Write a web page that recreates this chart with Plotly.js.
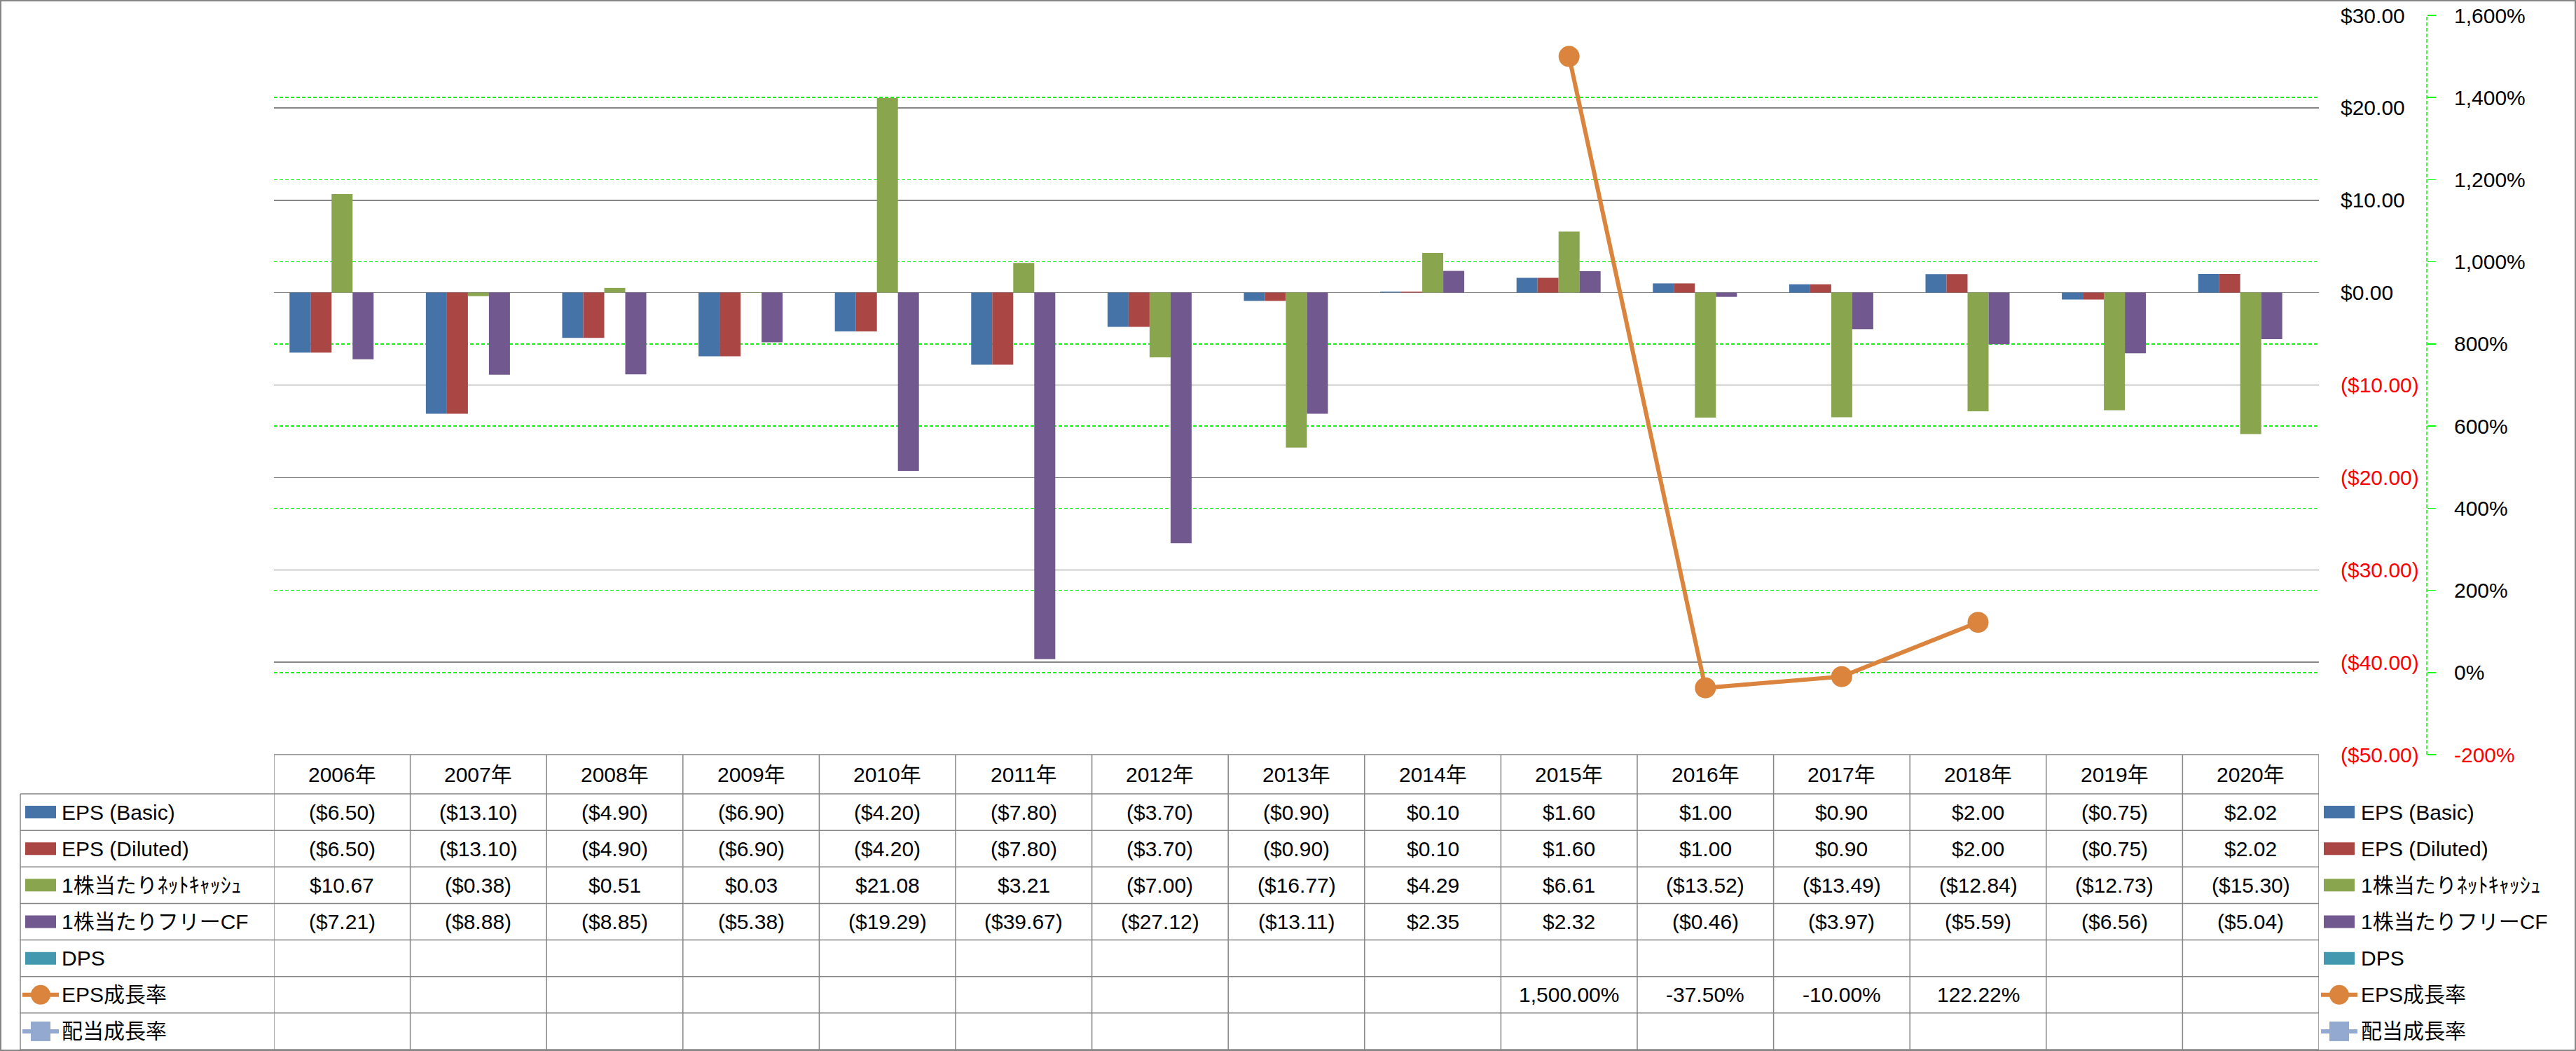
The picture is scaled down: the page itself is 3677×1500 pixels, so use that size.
<!DOCTYPE html>
<html>
<head>
<meta charset="utf-8">
<script src="https://cdn.plot.ly/plotly-3.0.1.min.js"></script>
<style>html,body{margin:0;padding:0;background:#fff;}#chart{width:3677px;height:1500px;}</style>
</head>
<body>
<div id="chart"></div>
<script>
// ---------- DATA ----------
const years = ['2006年','2007年','2008年','2009年','2010年','2011年','2012年','2013年','2014年','2015年','2016年','2017年','2018年','2019年','2020年'];
const epsBasic   = [-6.50, -13.10, -4.90, -6.90, -4.20, -7.80, -3.70, -0.90, 0.10, 1.60, 1.00, 0.90, 2.00, -0.75, 2.02];
const epsDiluted = [-6.50, -13.10, -4.90, -6.90, -4.20, -7.80, -3.70, -0.90, 0.10, 1.60, 1.00, 0.90, 2.00, -0.75, 2.02];
const netCash    = [10.67, -0.38, 0.51, 0.03, 21.08, 3.21, -7.00, -16.77, 4.29, 6.61, -13.52, -13.49, -12.84, -12.73, -15.30];
const freeCF     = [-7.21, -8.88, -8.85, -5.38, -19.29, -39.67, -27.12, -13.11, 2.35, 2.32, -0.46, -3.97, -5.59, -6.56, -5.04];
const dps        = [null, null, null, null, null, null, null, null, null, null, null, null, null, null, null];
const epsGrowth  = [null, null, null, null, null, null, null, null, null, 1500, -37.5, -10, 122.22, null, null];
const divGrowth  = [null, null, null, null, null, null, null, null, null, null, null, null, null, null, null];

const seriesNames = ['EPS (Basic)', 'EPS (Diluted)', '1株当たりﾈｯﾄｷｬｯｼｭ', '1株当たりフリーCF', 'DPS', 'EPS成長率', '配当成長率'];
const usdTicks = [-50, -40, -30, -20, -10, 0, 10, 20, 30];
const pctTicks = [-200, 0, 200, 400, 600, 800, 1000, 1200, 1400, 1600];

// ---------- STYLE ----------
const W = 3677, H = 1500;
const colors = ['#4572A7', '#AA4643', '#89A54E', '#71588F', '#4198AF', '#DB843D', '#93A9CF'];
const FONT = "'Liberation Sans', 'Noto Sans CJK JP', sans-serif";
const FS = 30;
const GRAY = '#868686';
const px = p => p / W;
const py = p => 1 - p / H;

const plotLeft = 391, plotRight = 3310, plotTop = 22, plotBottom = 1077;
const headerBottom = 1133, tableBottom = 1498;
const nRows = 7;
const rowH = (tableBottom - headerBottom) / nRows;
const rowCenter = i => headerBottom + rowH * (i + 0.5);

function fmtUSD(v) {
  if (v === null || v === undefined) return '';
  const s = '$' + Math.abs(v).toFixed(2);
  return v < 0 ? '(' + s + ')' : s;
}
function fmtPct(v) {
  if (v === null || v === undefined) return '';
  return v.toLocaleString('en-US', {minimumFractionDigits: 2, maximumFractionDigits: 2}) + '%';
}
function usdTickText(v) {
  const s = fmtUSD(v);
  return v < 0 ? '<span style="color:#FF0000">' + s + '</span>' : s;
}
function pctTickText(v) {
  const s = v.toLocaleString('en-US') + '%';
  return v < 0 ? '<span style="color:#FF0000">' + s + '</span>' : s;
}

// ---------- TRACES ----------
const barData = [epsBasic, epsDiluted, netCash, freeCF, dps];
const traces = barData.map((d, i) => ({
  type: 'bar', x: years, y: d, name: seriesNames[i],
  marker: {color: colors[i], line: {width: 0}},
  yaxis: 'y', xaxis: 'x', showlegend: false, hoverinfo: 'skip'
}));
traces.push({
  type: 'scatter', mode: 'lines+markers', x: years, y: epsGrowth, name: seriesNames[5],
  yaxis: 'y2', xaxis: 'x', line: {color: colors[5], width: 6},
  marker: {color: colors[5], size: 30, symbol: 'circle', line: {width: 0}},
  showlegend: false, hoverinfo: 'skip', cliponaxis: false
});
traces.push({
  type: 'scatter', mode: 'lines+markers', x: years, y: divGrowth, name: seriesNames[6],
  yaxis: 'y2', xaxis: 'x', line: {color: colors[6], width: 6},
  marker: {color: colors[6], size: 28, symbol: 'square'},
  showlegend: false, hoverinfo: 'skip'
});

// ---------- TABLE (shapes + annotations) ----------
const shapes = [];
const annotations = [];
const lineStyle = {color: GRAY, width: 1.5};

// outer border
shapes.push({type: 'rect', xref: 'paper', yref: 'paper', x0: 0, x1: 1, y0: 0, y1: 1, line: {color: GRAY, width: 4}});
// header top line (years row)
shapes.push({type: 'line', xref: 'x', yref: 'paper', x0: -0.5, x1: years.length - 0.5, y0: py(plotBottom), y1: py(plotBottom), line: lineStyle});
// row lines
for (let r = 0; r <= nRows; r++) {
  const yy = headerBottom + rowH * r;
  shapes.push({type: 'line', xref: 'paper', yref: 'paper', x0: px(29), x1: px(plotRight), y0: py(yy), y1: py(yy), line: lineStyle});
}
// vertical lines at category boundaries
for (let i = 0; i <= years.length; i++) {
  shapes.push({type: 'line', xref: 'x', yref: 'paper', x0: i - 0.5, x1: i - 0.5, y0: py(tableBottom), y1: py(plotBottom), line: lineStyle});
}
// legend column left edge
shapes.push({type: 'line', xref: 'paper', yref: 'paper', x0: px(29), x1: px(29), y0: py(tableBottom), y1: py(headerBottom), line: lineStyle});

// secondary axis dashed line
shapes.push({type: 'line', xref: 'paper', yref: 'paper', x0: px(3464), x1: px(3464), y0: py(plotBottom), y1: py(plotTop), line: {color: '#00FF00', width: 1.5, dash: '5px,3px'}});

// header years
years.forEach((yr, i) => {
  annotations.push({xref: 'x', yref: 'paper', x: yr, y: py((plotBottom + headerBottom) / 2), text: yr, showarrow: false,
    xanchor: 'center', yanchor: 'middle', font: {family: FONT, size: FS, color: '#000'}});
});

// cell values
const rowValues = [epsBasic.map(fmtUSD), epsDiluted.map(fmtUSD), netCash.map(fmtUSD), freeCF.map(fmtUSD), dps.map(fmtUSD), epsGrowth.map(fmtPct), divGrowth.map(fmtPct)];
rowValues.forEach((vals, r) => {
  vals.forEach((t, i) => {
    if (!t) return;
    annotations.push({xref: 'x', yref: 'paper', x: years[i], y: py(rowCenter(r)), text: t, showarrow: false,
      xanchor: 'center', yanchor: 'middle', font: {family: FONT, size: FS, color: '#000'}});
  });
});

// legend keys (left inside table and right outside)
function addKey(r, sx, textX) {
  const cy = rowCenter(r);
  if (r < 5) {
    shapes.push({type: 'rect', xref: 'paper', yref: 'paper', x0: px(sx), x1: px(sx + 44), y0: py(cy + 9), y1: py(cy - 9),
      fillcolor: colors[r], line: {width: 0}});
  } else {
    shapes.push({type: 'line', xref: 'paper', yref: 'paper', x0: px(sx - 4), x1: px(sx + 48), y0: py(cy), y1: py(cy),
      line: {color: colors[r], width: 6}});
    const c = sx + 22;
    if (r === 5) {
      shapes.push({type: 'circle', xref: 'paper', yref: 'paper', x0: px(c - 14), x1: px(c + 14), y0: py(cy + 14), y1: py(cy - 14),
        fillcolor: colors[r], line: {width: 0}});
    } else {
      shapes.push({type: 'rect', xref: 'paper', yref: 'paper', x0: px(c - 14), x1: px(c + 14), y0: py(cy + 14), y1: py(cy - 14),
        fillcolor: colors[r], line: {width: 0}});
    }
  }
  annotations.push({xref: 'paper', yref: 'paper', x: px(textX), y: py(cy), text: seriesNames[r], showarrow: false,
    xanchor: 'left', yanchor: 'middle', font: {family: FONT, size: FS, color: '#000'}});
}
for (let r = 0; r < nRows; r++) {
  addKey(r, 36, 86);
  addKey(r, 3317, 3368);
}

// ---------- LAYOUT ----------
const layout = {
  width: W, height: H,
  margin: {l: 0, r: 0, t: 0, b: 0, pad: 0},
  paper_bgcolor: '#fff', plot_bgcolor: 'rgba(0,0,0,0)',
  font: {family: FONT, size: FS, color: '#000'},
  barmode: 'group', bargap: 0.229, bargroupgap: 0,
  showlegend: false,
  xaxis: {
    type: 'category', domain: [px(plotLeft), px(plotRight)], range: [-0.5, years.length - 0.5],
    showticklabels: false, showgrid: false, zeroline: false, showline: false, ticks: '', fixedrange: true
  },
  yaxis: {
    domain: [py(plotBottom), py(plotTop)], range: [-50, 30], side: 'right',
    tickvals: usdTicks, ticktext: usdTicks.map(usdTickText),
    showgrid: true, gridcolor: GRAY, gridwidth: 1.5, zeroline: false, showline: false, ticks: '',
    ticklabelstandoff: 30, tickfont: {family: FONT, size: FS, color: '#000'}
  },
  yaxis2: {
    overlaying: 'y', anchor: 'free', position: px(3464), side: 'right', range: [-200, 1600],
    tickvals: pctTicks, ticktext: pctTicks.map(pctTickText),
    showgrid: true, gridcolor: '#00FF00', gridwidth: 1.5, griddash: '5px,3px', zeroline: false, showline: false,
    ticks: 'outside', ticklen: 12, tickcolor: '#00FF00', tickwidth: 1.5,
    ticklabelstandoff: 20, tickfont: {family: FONT, size: FS, color: '#000'}
  },
  shapes: shapes,
  annotations: annotations
};

Plotly.newPlot('chart', traces, layout, {staticPlot: true, displayModeBar: false});
</script>
</body>
</html>
